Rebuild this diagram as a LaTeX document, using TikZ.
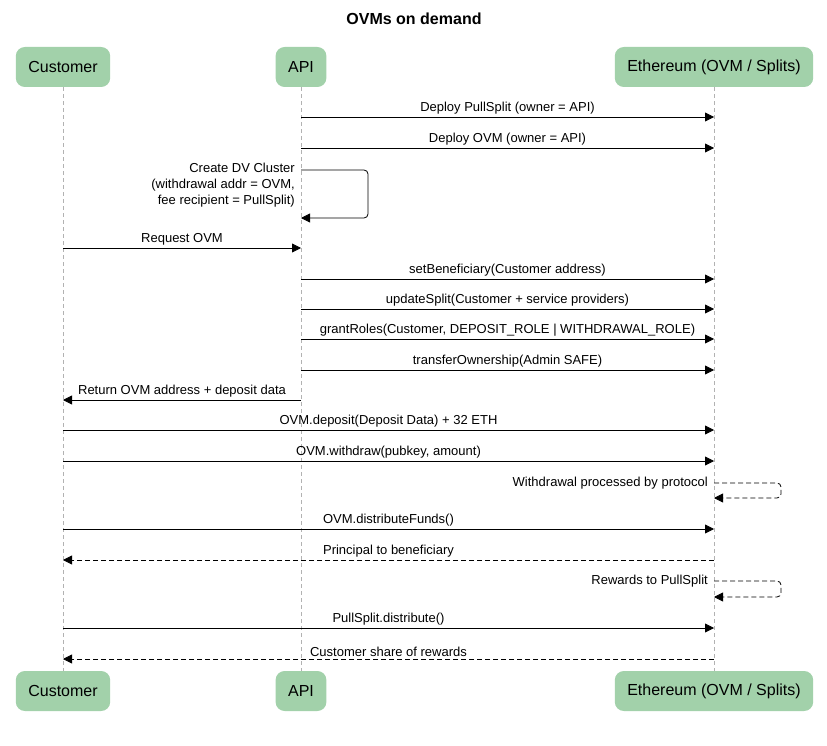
\documentclass[tikz,border=0pt]{standalone}
\usepackage{fontspec}
\setmainfont{Liberation Sans}
\usetikzlibrary{arrows.meta,positioning,calc}
\definecolor{actorgreen}{HTML}{A2D1AA}
\tikzset{
    actor/.style={rectangle, rounded corners=9pt, fill=actorgreen, minimum height=40pt, inner xsep=12.5pt, font=\fontsize{16}{18}\selectfont},
    lifeline/.style={draw=gray!60, line width=0.7pt, dash pattern=on 4pt off 3pt},
    msg/.style={-{Triangle[length=9pt,width=9pt]}, line width=0.8pt, draw=black},
    reply/.style={msg, dash pattern=on 5pt off 3pt},
    lbl/.style={font=\fontsize{13}{15}\selectfont, inner sep=1pt, above=1pt}
}
\begin{document}
\begin{tikzpicture}[x=1pt, y=-1pt]
    \useasboundingbox (0,0) rectangle (827,746);
    \node[font=\bfseries\fontsize{16}{18}\selectfont] (title) at (414,19) {OVMs on demand};

    % Actors
    \node[actor] (cust) at (63,67) {Customer};
    \node[actor] (api) at (301,67) {API};
    \node[actor] (eth) at (714,67) {Ethereum (OVM / Splits)};
    \node[actor] (cust2) at (63,691) {Customer};
    \node[actor] (api2) at (301,691) {API};
    \node[actor] (eth2) at (714,691) {Ethereum (OVM / Splits)};

    \draw[lifeline] (cust) -- (cust2);
    \draw[lifeline] (api) -- (api2);
    \draw[lifeline] (eth) -- (eth2);

    % Message anchors on each lifeline
    \foreach \n/\y in {a/117,b/148,c/170,d/218,e/248,f/279,g/309,h/339,i/370,j/400,k/430,l/461,m/483,n/498,o/529,p/560,q/581,r/597,s/628,t/659}{
        \coordinate (c\n) at (63,\y);
        \coordinate (a\n) at (301,\y);
        \coordinate (e\n) at (714,\y);
    }

    \draw[msg] (aa) -- node[lbl] {Deploy PullSplit (owner = API)} (ea);
    \draw[msg] (ab) -- node[lbl] {Deploy OVM (owner = API)} (eb);
    \draw[msg, rounded corners=4pt] (ac) -- ++(67,0) |- (ad);
    \node[font=\fontsize{13}{16}\selectfont, align=right, anchor=north east, inner sep=0pt] (dvtext) at ($(ac)+(-6,-7)$) {Create DV Cluster\\(withdrawal addr = OVM,\\fee recipient = PullSplit)};
    \draw[msg] (ce) -- node[lbl] {Request OVM} (ae);
    \draw[msg] (af) -- node[lbl] {setBeneficiary(Customer address)} (ef);
    \draw[msg] (ag) -- node[lbl] {updateSplit(Customer + service providers)} (eg);
    \draw[msg] (ah) -- node[lbl] {grantRoles(Customer, DEPOSIT\_ROLE | WITHDRAWAL\_ROLE)} (eh);
    \draw[msg] (ai) -- node[lbl] {transferOwnership(Admin SAFE)} (ei);
    \draw[msg] (aj) -- node[lbl] {Return OVM address + deposit data} (cj);
    \draw[msg] (ck) -- node[lbl] {OVM.deposit(Deposit Data) + 32 ETH} (ek);
    \draw[msg] (cl) -- node[lbl] {OVM.withdraw(pubkey, amount)} (el);
    \draw[reply, rounded corners=4pt] (em) -- ++(67,0) |- (en);
    \node[font=\fontsize{13}{15}\selectfont, anchor=east, inner sep=0pt] (wdtext) at ($(em)+(-6,0)$) {Withdrawal processed by protocol};
    \draw[msg] (co) -- node[lbl] {OVM.distributeFunds()} (eo);
    \draw[reply] (ep) -- node[lbl] {Principal to beneficiary} (cp);
    \draw[reply, rounded corners=4pt] (eq) -- ++(67,0) |- (er);
    \node[font=\fontsize{13}{15}\selectfont, anchor=east, inner sep=0pt] (rwtext) at ($(eq)+(-6,0)$) {Rewards to PullSplit};
    \draw[msg] (cs) -- node[lbl] {PullSplit.distribute()} (es);
    \draw[reply] (et) -- node[lbl] {Customer share of rewards} (ct);
\end{tikzpicture}
\end{document}
